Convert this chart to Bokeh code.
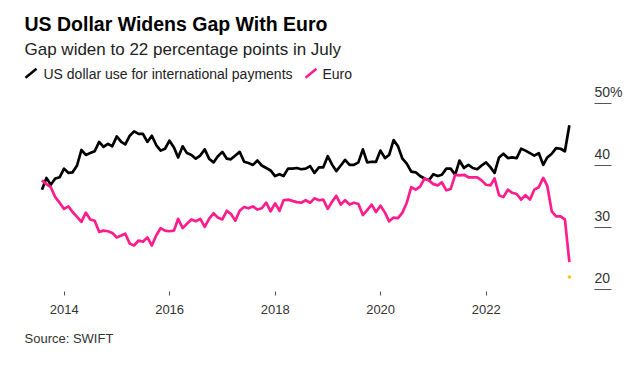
import pandas as pd
from bokeh.plotting import figure
from bokeh.models import (Range1d, FixedTicker, DatetimeTickFormatter, Label,
                          LabelSet, Arrow, ColumnDataSource, Title)
from bokeh.embed import file_html
from bokeh.resources import INLINE
from bokeh.core.properties import value

# ---------------- data (monthly, Jul 2013 - Jul 2023) ----------------
dates = pd.date_range("2013-08-01", periods=121, freq="MS") - pd.Timedelta(days=1)

usd = [36.1, 38.0, 36.9, 37.9, 38.1, 39.5, 38.8, 38.9, 40.0, 42.5,
       41.7, 42.0, 42.3, 43.8, 43.0, 43.5, 43.1, 44.7, 43.8, 43.4,
       44.8, 45.5, 45.1, 45.1, 43.8, 44.8, 43.3, 42.4, 42.7, 44.0,
       42.9, 41.3, 43.1, 42.0, 41.7, 41.1, 41.6, 42.6, 41.1, 40.5,
       41.5, 42.2, 41.1, 41.0, 41.6, 42.2, 40.6, 40.4, 40.1, 40.8,
       40.0, 39.6, 39.2, 38.3, 38.6, 38.3, 39.5, 39.5, 39.6, 39.4,
       39.5, 39.9, 38.8, 39.7, 39.7, 41.5, 40.1, 39.1, 40.0, 40.9,
       40.1, 40.1, 40.5, 42.6, 40.5, 40.6, 40.6, 42.4, 41.2, 41.7,
       44.1, 43.1, 41.1, 40.3, 39.0, 38.9, 38.3, 37.9, 37.6, 38.6,
       38.3, 38.5, 39.5, 39.5, 38.5, 40.8, 39.6, 40.1, 39.6, 39.4,
       40.0, 40.5, 39.7, 38.8, 41.3, 41.9, 41.2, 41.3, 41.2, 42.7,
       42.4, 42.0, 41.6, 42.0, 40.1, 41.3, 41.9, 42.8, 42.7, 42.3,
       46.5]

eur = [37.6, 37.0, 36.5, 34.9, 34.0, 33.0, 33.4, 32.5, 31.7, 30.9,
       32.4, 31.3, 31.1, 29.3, 29.5, 29.4, 29.1, 28.4, 28.7, 29.0,
       27.4, 27.1, 27.9, 27.7, 28.4, 27.1, 28.7, 29.9, 29.5, 29.4,
       29.5, 31.4, 29.9, 30.6, 31.3, 31.0, 31.4, 30.1, 31.4, 32.3,
       31.6, 31.3, 32.7, 32.2, 31.1, 32.7, 33.3, 33.1, 33.4, 32.9,
       33.1, 34.0, 32.6, 33.9, 32.7, 34.4, 34.5, 34.3, 34.1, 34.0,
       34.4, 34.0, 34.7, 34.4, 34.5, 33.0, 34.2, 35.1, 33.7, 34.4,
       33.7, 34.0, 33.8, 32.0, 32.8, 33.7, 32.5, 33.5, 32.4, 31.0,
       31.6, 31.5, 32.4, 34.0, 36.5, 36.1, 36.6, 37.9, 37.6, 37.0,
       36.8, 37.3, 36.0, 36.2, 38.5, 38.4, 38.5, 38.1, 38.1, 38.1,
       37.6, 36.9, 36.8, 37.9, 35.2, 34.9, 36.1, 35.6, 35.4, 34.5,
       35.2, 34.5, 36.1, 36.5, 38.0, 36.7, 32.6, 31.8, 31.8, 31.3,
       24.4]

gap_marker = [22.0]
y_ticks = [20, 30, 40, 50]
y_tick_labels = ["20", "30", "40", "50%"]
x_tick_years = [2014, 2016, 2018, 2020, 2022]

series_names = ["US dollar use for international payments", "Euro"]

# ---------------- layout ----------------
W, H = 640, 365
FRAME_B = 291                   # frame bottom (px from top)
FW = W

PX_PER_DAY = 0.14442
ANCHOR = pd.Timestamp("2014-01-01")
ANCHOR_PX = 63.7
x_start = ANCHOR - pd.Timedelta(days=ANCHOR_PX / PX_PER_DAY)
x_end = ANCHOR + pd.Timedelta(days=(FW - ANCHOR_PX) / PX_PER_DAY)

PX_PER_UNIT = 6.2
y_start = 20 - 2 / PX_PER_UNIT
y_end = y_start + FRAME_B / PX_PER_UNIT

FONT = "Liberation Sans"
BLACK = "#000000"
PINK = "#ff1d8e"

p = figure(width=W, height=H, output_backend="svg", toolbar_location=None,
           x_axis_type="datetime",
           x_range=Range1d(x_start, x_end), y_range=Range1d(y_start, y_end),
           min_border_left=0, min_border_right=0,
           min_border_top=0, min_border_bottom=H - FRAME_B)
p.outline_line_color = None
p.background_fill_color = "white"
p.border_fill_color = "white"
p.xgrid.visible = False
p.ygrid.visible = False
p.yaxis.visible = False

# x axis
xa = p.xaxis[0]
xa.ticker = FixedTicker(ticks=[pd.Timestamp(f"{y}-01-01").value / 1e6 for y in x_tick_years])
xa.formatter = DatetimeTickFormatter(years="%Y", months="%Y", days="%Y")
xa.axis_line_color = None
xa.major_tick_in = 0
xa.major_tick_out = 4
xa.major_tick_line_color = "#555555"
xa.minor_tick_line_color = None
xa.major_label_text_font = FONT
xa.major_label_text_font_size = "13px"
xa.major_label_text_color = "#333333"
xa.major_label_standoff = 9

# source note below the axis
p.add_layout(Title(text="Source: SWIFT", align="left", offset=24, standoff=25,
                   text_font=FONT, text_font_size="13px", text_font_style="normal",
                   text_color="#333333"), "below")

# lines
p.line(dates, usd, line_color=BLACK, line_width=2.7, line_join="round")
p.line(dates, eur, line_color=PINK, line_width=2.7, line_join="round")
p.scatter([dates[-1]], gap_marker, size=3.5, color="#f5c400", line_color=None)

# right-side y ticks (short underlines) and labels
TICK_X0, TICK_X1 = 594, 611
tx0 = ANCHOR + pd.Timedelta(days=(TICK_X0 - ANCHOR_PX) / PX_PER_DAY)
tx1 = ANCHOR + pd.Timedelta(days=(TICK_X1 - ANCHOR_PX) / PX_PER_DAY)
p.segment(x0=[tx0] * len(y_ticks), x1=[tx1] * len(y_ticks),
          y0=y_ticks, y1=y_ticks, line_color="#555555", line_width=1.2)
lab_src = ColumnDataSource(dict(x=[tx0] * len(y_ticks), y=y_ticks, t=y_tick_labels))
p.add_layout(LabelSet(x="x", y="y", text="t", source=lab_src, x_offset=0, y_offset=12,
                      text_align="left", text_baseline="middle",
                      text_font=value(FONT), text_font_size="14px", text_color="#333333"))

# titles (screen units relative to frame bottom-left)
def add_label(text, x, y_page, size, color="#222222", style="normal"):
    p.add_layout(Label(x=x, y=FRAME_B - y_page, x_units="screen", y_units="screen", text=text,
                       text_font=FONT, text_font_size=size, text_color=color,
                       text_font_style=style, text_align="left", text_baseline="middle"))

add_label("US Dollar Widens Gap With Euro", 24, 23, "19.5px", "#000000", "bold")
add_label("Gap widen to 22 percentage points in July", 24, 49, "17px")
add_label(series_names[0], 43, 73, "14px")
add_label(series_names[1], 322, 73, "14px")

# legend slashes
for (x0, col) in [(25, BLACK), (305, PINK)]:
    p.add_layout(Arrow(x_start=x0, y_start=FRAME_B - 77.3, x_end=x0 + 11, y_end=FRAME_B - 68.3,
                       start_units="screen", end_units="screen", start=None, end=None,
                       line_color=col, line_width=2.5))

open("out.html", "w").write(file_html(p, INLINE))
